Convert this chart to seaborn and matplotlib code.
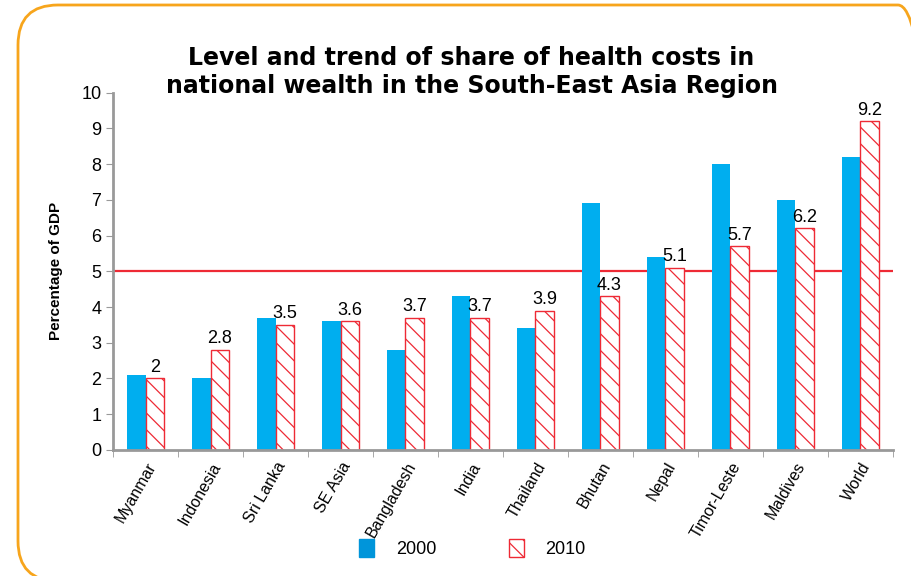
import pandas as pd
import seaborn as sns
import matplotlib.pyplot as plt
from matplotlib.colors import to_rgba
from matplotlib.patches import FancyBboxPatch, Patch

# Health spending as share of GDP
countries = ["Myanmar", "Indonesia", "Sri Lanka", "SE Asia", "Bangladesh", "India",
             "Thailand", "Bhutan", "Nepal", "Timor-Leste", "Maldives", "World"]
share_2000 = [2.1, 2.0, 3.7, 3.6, 2.8, 4.3, 3.4, 6.9, 5.4, 8.0, 7.0, 8.2]
share_2010 = [2.0, 2.8, 3.5, 3.6, 3.7, 3.7, 3.9, 4.3, 5.1, 5.7, 6.2, 9.2]
labels_2010 = ["2", "2.8", "3.5", "3.6", "3.7", "3.7", "3.9", "4.3", "5.1", "5.7", "6.2", "9.2"]
reference_level = 5

df = pd.DataFrame({
    "Country": countries * 2,
    "Share": share_2000 + share_2010,
    "Year": ["2000"] * len(countries) + ["2010"] * len(countries),
})

sns.set_style("white")
plt.rcParams['font.family'] = ['Liberation Sans Narrow', 'Liberation Sans', 'DejaVu Sans']
plt.rcParams['text.color'] = 'black'
plt.rcParams['axes.labelcolor'] = 'black'
plt.rcParams['xtick.color'] = 'black'
plt.rcParams['ytick.color'] = 'black'
plt.rcParams['hatch.linewidth'] = 0.9

blue = "#00AEEF"
red = "#EE2A35"

fig = plt.figure(figsize=(9.12, 5.76), dpi=100)
ax = fig.add_axes([0.124, 0.219, 0.855, 0.62])

sns.barplot(data=df, x="Country", y="Share", hue="Year", palette=[blue, "white"],
            width=0.56, gap=0, ax=ax, legend=False, saturation=1)

n = len(countries)
for i, bar in enumerate(ax.patches[:2 * n]):
    if i >= n:
        bar.set_hatch("\\\\")
        bar.set_edgecolor(red)
        bar.set_facecolor("white")
        bar.set_linewidth(1.0)
        bar._hatch_color = to_rgba(red)
    else:
        bar.set_linewidth(0)

# value labels above the 2010 bars
ax.bar_label(ax.containers[1], labels=labels_2010, padding=2, fontsize=13)

ax.axhline(reference_level, color=red, linewidth=1.6, zorder=0.5)

ax.set_ylim(0, 10)
ax.set_xlim(-0.5, n - 0.5)
ax.set_yticks(range(0, 11))
ax.tick_params(axis="y", labelsize=13, length=5, color="#999999", direction="out", left=True)
ax.set_xticks(range(n))
ax.set_xticklabels(countries, rotation=60, ha="right", rotation_mode="anchor", fontsize=11.5)
ax.tick_params(axis="x", length=0, pad=7)
ax.set_xticks([i - 0.5 for i in range(n + 1)], minor=True)
ax.tick_params(axis="x", which="minor", length=5, color="#999999", direction="out", bottom=True)

for side in ["top", "right"]:
    ax.spines[side].set_visible(False)
for side in ["left", "bottom"]:
    ax.spines[side].set_color("#999999")
    ax.spines[side].set_linewidth(2)

ax.set_xlabel("")
ax.set_ylabel("Percentage of GDP", fontsize=11, fontweight="bold", labelpad=13)

fig.text(0.517, 0.83, "Level and trend of share of health costs in\nnational wealth in the South-East Asia Region",
         ha="center", va="bottom", fontsize=17, fontweight="bold", family="DejaVu Sans",
         linespacing=1.2)

handles = [Patch(facecolor="#0095DA", edgecolor="#0095DA"),
           Patch(facecolor="white", edgecolor=red, hatch="\\\\")]
fig.legend(handles, ["2000", "2010"], loc="center", bbox_to_anchor=(0.518, 0.048), ncol=2,
           frameon=False, fontsize=13, columnspacing=4.0, handlelength=0.85, handleheight=1.2,
           handletextpad=1.2)

# rounded orange frame around the panel
frame = FancyBboxPatch((0.18, -0.05), 9.2, 5.76, boxstyle="round,pad=0,rounding_size=0.4",
                       transform=fig.dpi_scale_trans, facecolor="none", edgecolor="#F7A51C",
                       linewidth=2)
fig.patches.append(frame)

fig.savefig("out.png", dpi=100)
